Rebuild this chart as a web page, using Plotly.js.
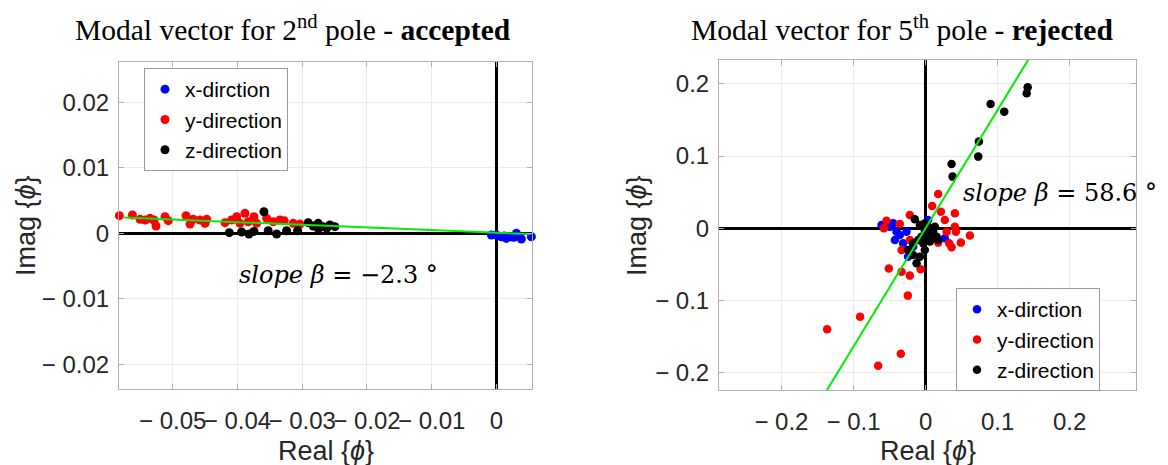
<!DOCTYPE html>
<html>
<head>
<meta charset="utf-8">
<script src="https://cdn.plot.ly/plotly-3.0.1.min.js"></script>
<style>html,body{margin:0;padding:0;background:#fff;}#chart{width:1168px;height:465px;}</style>
</head>
<body>
<div id="chart"></div>
<script>
// ---------- Data: 2nd pole (accepted) ----------
const p2xReal = [-0.00077, 0.0, 0.00077, 0.00154, 0.00231, 0.00309, 0.00386, 0.0054, 0.0012, 0.0027];
const p2xImag = [-0.00026, -0.00026, -0.00052, -0.00077, -0.00052, 0.0, -0.00087, -0.00052, -0.0004, -0.0006];
const p2yReal = [-0.05824, -0.05623, -0.05505, -0.05427, -0.0535, -0.05289, -0.05258, -0.05119, -0.05068, -0.04795,
  -0.04733, -0.04682, -0.04579, -0.04502, -0.04475, -0.04193, -0.0409, -0.04012, -0.03961, -0.03884,
  -0.03833, -0.03745, -0.03704, -0.03549, -0.03447, -0.03344, -0.03278, -0.03139, -0.03035];
const p2yImag = [0.0027, 0.0028, 0.00214, 0.00204, 0.00229, 0.00204, 0.00112, 0.00255, 0.00194, 0.0027,
  0.00142, 0.00214, 0.00204, 0.00153, 0.00214, 0.00163, 0.00204, 0.00255, 0.00153, 0.00306,
  0.00178, 0.00255, 0.00153, 0.00229, 0.00178, 0.00204, 0.00194, 0.00153, 0.00142];
const p2zReal = [-0.04126, -0.03935, -0.03823, -0.03745, -0.03591, -0.03525, -0.03395, -0.03241, -0.03071,
  -0.02907, -0.0283, -0.02753, -0.02676, -0.02573, -0.02495, -0.0262, -0.0275];
const p2zImag = [0.0001, 0.0002, -0.0001, 0.0003, 0.0033, 0.0004, -0.0001, 0.0004, 0.0004,
  0.00163, 0.00112, 0.00153, 0.00102, 0.00128, 0.00102, 0.0008, 0.0007];

// ---------- Data: 5th pole (rejected) ----------
const p5xReal = [-0.0611, -0.045, -0.0403, -0.0426, -0.0357, -0.0311, -0.0242, -0.0172, 0.0036, 0.0268, -0.0264, -0.0496];
const p5xImag = [0.0046, 0.0069, -0.0047, -0.0162, -0.0093, -0.0208, -0.0393, -0.0255, 0.0115, -0.0139, -0.0047, 0.0022];
const p5yReal = [0.0175, 0.0092, 0.0213, 0.0407, 0.0268, 0.0407, 0.0421, 0.0615, 0.049, 0.0361, 0.0328, 0.0175, 0.0292,
  -0.0218, -0.0357, -0.0542, -0.0579, -0.0333, -0.0218, -0.0069, -0.051, -0.0333, -0.0218, -0.0246,
  -0.0908, -0.1366, -0.0343, -0.0658];
const p5yImag = [0.0475, 0.0309, 0.023, 0.0208, 0.0115, 0.0022, -0.0047, -0.0102, -0.0199, -0.0263, -0.0208, -0.0199, -0.0047,
  0.0184, 0.006, 0.0105, 0.0, -0.0301, -0.0162, -0.0568, -0.0559, -0.0601, -0.0656, -0.0933,
  -0.1224, -0.1399, -0.1737, -0.1903];
const p5zReal = [0.1417, 0.1403, 0.0903, 0.1092, 0.074, 0.0731, 0.0361, 0.0375,
  -0.0149, -0.0079, -0.001, 0.0036, 0.0106, 0.0153, 0.0175, 0.0014, -0.0056, -0.0103, -0.0172, -0.0242,
  -0.0172, -0.0079, -0.0125, -0.001, -0.0033, 0.006, 0.0083, 0.0129, -0.001];
const p5zImag = [0.1953, 0.187, 0.1722, 0.1615, 0.12, 0.0992, 0.0891, 0.0715,
  0.0125, 0.0046, -0.0024, 0.0022, -0.0047, -0.0116, -0.0162, -0.0093, -0.0116, -0.0162, -0.0208, -0.0301,
  -0.037, -0.0393, -0.0485, -0.0301, -0.0208, -0.0185, -0.0093, 0.0022, 0.0069];

// fitted line: slope angle (deg), intercept, x extent
const slopeDeg = [-2.3, 58.6];
const slopeIntercept = [0.0001, 0.0];
const lineXLeft = [-0.0575, 0.0053];
const lineXRight = [-0.16, 0.16];

// ticks
const leftXTicks = [-0.05, -0.04, -0.03, -0.02, -0.01, 0];
const leftXTickText = ['\u2212 0.05', '\u2212 0.04', '\u2212 0.03', '\u2212 0.02', '\u2212 0.01', '0'];
const leftYTicks = [-0.02, -0.01, 0, 0.01, 0.02];
const leftYTickText = ['\u2212 0.02', '\u2212 0.01', '0', '0.01', '0.02'];
const rightTicks = [-0.2, -0.1, 0, 0.1, 0.2];
const rightTickText = ['\u2212 0.2', '\u2212 0.1', '0', '0.1', '0.2'];
const seriesNames = ['x-dirction', 'y-direction', 'z-direction'];

const colors = ['#0000ff', '#ff0000', '#000000'];
const lineY = (xs, k) => xs.map(x => Math.tan(slopeDeg[k] * Math.PI / 180) * x + slopeIntercept[k]);

function pts(x, y, i, xa, ya, leg, size) {
  return {type: 'scatter', mode: 'markers', x: x, y: y, name: seriesNames[i], xaxis: xa, yaxis: ya,
    legend: leg, cliponaxis: false, marker: {color: colors[i], size: size}};
}

const traces = [
  pts(p2xReal, p2xImag, 0, 'x', 'y', 'legend', 9),
  pts(p2yReal, p2yImag, 1, 'x', 'y', 'legend', 9),
  pts(p2zReal, p2zImag, 2, 'x', 'y', 'legend', 9),
  {type: 'scatter', mode: 'lines', x: lineXLeft, y: lineY(lineXLeft, 0), xaxis: 'x', yaxis: 'y',
    line: {color: '#00ee00', width: 2}, showlegend: false},
  pts(p5xReal, p5xImag, 0, 'x2', 'y2', 'legend2', 8.5),
  pts(p5yReal, p5yImag, 1, 'x2', 'y2', 'legend2', 8.5),
  pts(p5zReal, p5zImag, 2, 'x2', 'y2', 'legend2', 8.5),
  {type: 'scatter', mode: 'lines', x: lineXRight, y: lineY(lineXRight, 1), xaxis: 'x2', yaxis: 'y2',
    line: {color: '#00ee00', width: 2}, showlegend: false}
];

const tickFont = {family: 'Liberation Sans, Arial, sans-serif', size: 24, color: '#262626'};
function ax(domain, range, tv, tt, anchor, standoff) {
  return {domain: domain, range: range, anchor: anchor, tickvals: tv, ticktext: tt, tickangle: 0,
    showgrid: true, gridcolor: '#ebebeb', gridwidth: 1,
    zeroline: true, zerolinecolor: '#000000', zerolinewidth: 2.5,
    showline: true, mirror: 'ticks', linecolor: '#b0b0b0', linewidth: 1,
    ticks: 'inside', ticklen: 5, tickcolor: '#b0b0b0', tickfont: tickFont,
    ticklabelstandoff: standoff, fixedrange: true};
}

const W = 1168, H = 465;
const legendBase = {bgcolor: '#ffffff', bordercolor: '#9a9a9a', borderwidth: 1,
  font: {family: 'Liberation Sans, Arial, sans-serif', size: 21, color: '#000000'},
  xanchor: 'left', yanchor: 'top', itemwidth: 30, tracegroupgap: 0};

const titleFont = {family: 'Liberation Serif, Times New Roman, serif', size: 29.5, color: '#000000'};
const axTitleFont = {family: 'Liberation Sans, Arial, sans-serif', size: 27, color: '#262626'};
const slopeFont = {family: 'DejaVu Serif, serif', size: 24, color: '#000000'};

const layout = {
  width: W, height: H, margin: {l: 0, r: 0, t: 0, b: 0},
  paper_bgcolor: '#ffffff', plot_bgcolor: '#ffffff',
  showlegend: true,
  xaxis: ax([119 / W, 532 / W], [-0.0583, 0.0055], leftXTicks, leftXTickText, 'y', 10),
  yaxis: ax([1 - 389 / H, 1 - 62 / H], [-0.0238, 0.0262], leftYTicks, leftYTickText, 'x', 4),
  xaxis2: ax([719 / W, 1136 / W], [-0.2866, 0.292], rightTicks, rightTickText, 'y2', 10),
  yaxis2: ax([1 - 390 / H, 1 - 60 / H], [-0.224, 0.233], rightTicks, rightTickText, 'x2', 4),
  legend: Object.assign({x: 144 / W, y: 1 - 68 / H}, legendBase),
  legend2: Object.assign({x: 956 / W, y: 1 - 288 / H}, legendBase),
  annotations: [
    {xref: 'paper', yref: 'paper', x: 293 / W, y: 1 - 28 / H, xanchor: 'center', yanchor: 'middle', showarrow: false,
      text: 'Modal vector for 2<sup>nd</sup> pole - <b>accepted</b>', font: titleFont},
    {xref: 'paper', yref: 'paper', x: 902 / W, y: 1 - 28 / H, xanchor: 'center', yanchor: 'middle', showarrow: false,
      text: 'Modal vector for 5<sup>th</sup> pole - <b>rejected</b>', font: titleFont},
    {xref: 'paper', yref: 'paper', x: 326 / W, y: 1 - 451 / H, xanchor: 'center', yanchor: 'middle', showarrow: false,
      text: 'Real {<i>\u03d5</i>}', font: axTitleFont},
    {xref: 'paper', yref: 'paper', x: 928 / W, y: 1 - 451 / H, xanchor: 'center', yanchor: 'middle', showarrow: false,
      text: 'Real {<i>\u03d5</i>}', font: axTitleFont},
    {xref: 'paper', yref: 'paper', x: 26 / W, y: 1 - 226 / H, xanchor: 'center', yanchor: 'middle', showarrow: false,
      textangle: -90, text: 'Imag {<i>\u03d5</i>}', font: axTitleFont},
    {xref: 'paper', yref: 'paper', x: 637 / W, y: 1 - 226 / H, xanchor: 'center', yanchor: 'middle', showarrow: false,
      textangle: -90, text: 'Imag {<i>\u03d5</i>}', font: axTitleFont},
    {xref: 'paper', yref: 'paper', x: 237 / W, y: 1 - 275 / H, xanchor: 'left', yanchor: 'middle', showarrow: false,
      text: '<i>slope \u03b2</i> = \u22122.3 \u00b0', font: slopeFont},
    {xref: 'paper', yref: 'paper', x: 961 / W, y: 1 - 193 / H, xanchor: 'left', yanchor: 'middle', showarrow: false,
      text: '<i>slope \u03b2</i> = 58.6 \u00b0', font: slopeFont}
  ]
};

Plotly.newPlot('chart', traces, layout, {displayModeBar: false, staticPlot: true});
</script>
</body>
</html>
